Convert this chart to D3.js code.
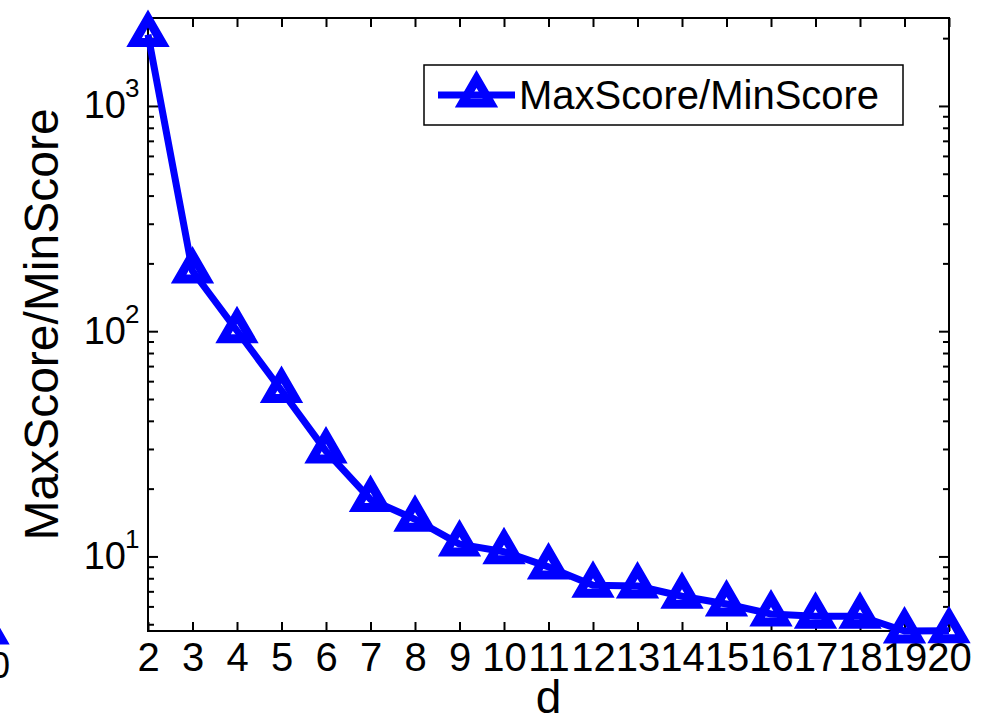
<!DOCTYPE html>
<html>
<head>
<meta charset="utf-8">
<script src="https://cdn.jsdelivr.net/npm/d3@7"></script>
<style>
  body { margin: 0; background: #fff; }
  svg { display: block; font-family: "Liberation Sans", Arial, sans-serif; }
</style>
</head>
<body>
<div id="chart"></div>
<script>
// values
const dValues = [2, 3, 4, 5, 6, 7, 8, 9, 10, 11, 12, 13, 14, 15, 16, 17, 18, 19, 20];
const ratioValues = [2085, 186, 101, 54.8, 29.5, 18.0, 14.7, 11.4, 10.55, 9.03, 7.48, 7.43, 6.69, 6.18, 5.58, 5.45, 5.45, 4.69, 4.70];
const yMajorTicks = [10, 100, 1000];
const yMajorExponents = ['1', '2', '3'];
const yMax = 2470;
const seriesName = 'MaxScore/MinScore';
const xLabel = 'd';
const yLabel = 'MaxScore/MinScore';

const width = 988;
const height = 724;
const margin = { top: 18, right: 39, bottom: 93, left: 148 };
const blue = '#0000ff';

const svg = d3.select('#chart')
  .append('svg')
  .attr('width', width)
  .attr('height', height);

const x = d3.scaleLinear()
  .domain([d3.min(dValues), d3.max(dValues)])
  .range([margin.left, width - margin.right]);

const y = d3.scaleLog()
  .domain([d3.min(ratioValues), yMax])
  .range([height - margin.bottom, margin.top]);

const [x0, x1] = x.range();
const [yb, yt] = y.range();

// 1. axes, ticks pointing inward like matlab
svg.append('g')
  .attr('transform', `translate(0,${yb})`)
  .call(d3.axisBottom(x).tickValues(dValues).tickSizeInner(-9).tickSizeOuter(0).tickPadding(12))
  .call(g => g.select('.domain').remove())
  .call(g => g.selectAll('line').attr('stroke', '#000').attr('stroke-width', 2))
  .call(g => g.selectAll('text').attr('fill', '#000').attr('font-size', 40));

svg.append('g')
  .attr('transform', `translate(0,${yt})`)
  .call(d3.axisTop(x).tickValues(dValues).tickSizeInner(-9).tickSizeOuter(0).tickFormat(''))
  .call(g => g.select('.domain').remove())
  .call(g => g.selectAll('line').attr('stroke', '#000').attr('stroke-width', 2));

const [lo, hi] = y.domain();
const yMinor = [];
for (let k = 0; k <= 4; k++) {
  for (let m = 2; m <= 9; m++) {
    const v = m * Math.pow(10, k);
    if (v >= lo && v <= hi) yMinor.push(v);
  }
}

const yTicks = yMajorTicks.map(v => ({ v, len: 10 })).concat(yMinor.map(v => ({ v, len: 6 })));
[[x0, 1], [x1, -1]].forEach(([xx, dir]) => {
  svg.append('g')
    .selectAll('line')
    .data(yTicks)
    .enter()
    .append('line')
    .attr('x1', xx)
    .attr('x2', d => xx + dir * d.len)
    .attr('y1', d => y(d.v))
    .attr('y2', d => y(d.v))
    .attr('stroke', '#000')
    .attr('stroke-width', 2);
});

const yLabels = svg.append('g')
  .selectAll('text')
  .data(yMajorTicks)
  .enter();

yLabels.append('text')
  .attr('x', x0 - 22)
  .attr('y', d => y(d) + 12)
  .attr('text-anchor', 'end')
  .attr('font-size', 38)
  .text('10');

yLabels.append('text')
  .attr('x', x0 - 23)
  .attr('y', d => y(d) - 9)
  .attr('font-size', 26)
  .text((d, i) => yMajorExponents[i]);

svg.append('rect')
  .attr('x', x0)
  .attr('y', yt)
  .attr('width', x1 - x0)
  .attr('height', yb - yt)
  .attr('fill', 'none')
  .attr('stroke', '#000')
  .attr('stroke-width', 2);

// axis titles
svg.append('text')
  .attr('x', (x0 + x1) / 2)
  .attr('y', 713)
  .attr('text-anchor', 'middle')
  .attr('font-size', 46)
  .text(xLabel);

svg.append('text')
  .attr('transform', `translate(58,${(yt + yb) / 2}) rotate(-90)`)
  .attr('text-anchor', 'middle')
  .attr('font-size', 48)
  .text(yLabel);

// 2. series
const data = dValues.map((d, i) => ({ d, r: ratioValues[i] }));
const triangle = d3.symbol(d3.symbolTriangle, 333);

svg.append('path')
  .datum(data)
  .attr('d', d3.line().x(d => x(d.d)).y(d => y(d.r)))
  .attr('fill', 'none')
  .attr('stroke', blue)
  .attr('stroke-width', 7)
  .attr('stroke-linejoin', 'round');

svg.append('g')
  .selectAll('path')
  .data(data)
  .enter()
  .append('path')
  .attr('d', triangle)
  .attr('transform', d => `translate(${x(d.d)},${y(d.r)})`)
  .attr('fill', 'none')
  .attr('stroke', blue)
  .attr('stroke-width', 9)
  .attr('stroke-linejoin', 'miter');

// 3. legend
const legend = svg.append('g');
legend.append('rect')
  .attr('x', 424)
  .attr('y', 65)
  .attr('width', 479)
  .attr('height', 60)
  .attr('fill', '#fff')
  .attr('stroke', '#000')
  .attr('stroke-width', 1.5);
legend.append('line')
  .attr('x1', 438).attr('x2', 515)
  .attr('y1', 95).attr('y2', 95)
  .attr('stroke', blue)
  .attr('stroke-width', 7);
legend.append('path')
  .attr('d', triangle)
  .attr('transform', 'translate(476.5,95)')
  .attr('fill', 'none')
  .attr('stroke', blue)
  .attr('stroke-width', 9);
legend.append('text')
  .attr('x', 519)
  .attr('y', 109)
  .attr('font-size', 40)
  .text(seriesName);

// bit of the neighbouring panel cut off at the left edge
svg.append('path')
  .attr('d', triangle)
  .attr('transform', 'translate(-12,632)')
  .attr('fill', 'none')
  .attr('stroke', blue)
  .attr('stroke-width', 9);
svg.append('text')
  .attr('x', 10)
  .attr('y', 678)
  .attr('text-anchor', 'end')
  .attr('font-size', 36)
  .text('20');
</script>
</body>
</html>
